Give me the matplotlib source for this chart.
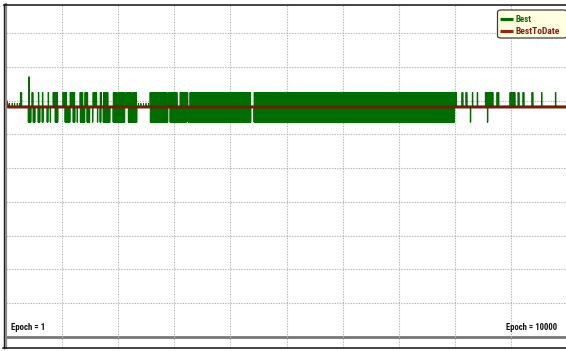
import numpy as np
import matplotlib
matplotlib.use('Agg')
import matplotlib.pyplot as plt
from matplotlib.lines import Line2D
from matplotlib.patches import FancyBboxPatch
from matplotlib import font_manager as fm

# ---------------- data ----------------
n_epochs = 10000
best_first = 7.82          # value of Best at epoch 1
best_base = 6.81           # level Best returns to (same as BestToDate)
best_up = 7.24             # typical upward excursion level
best_down = 6.36           # typical downward excursion level
best_tall = 7.70           # the single tall early spike
best_small = 6.92          # small fuzz just above the baseline

# epoch ranges in which Best makes upward excursions
up_runs = [(250, 285), (463, 481), (570, 588), (642, 660), (749, 766),
           (838, 927), (1016, 1087), (1141, 1230), (1319, 1373), (1408, 1462),
           (1551, 1622), (1676, 1711), (1729, 1818), (1907, 1979), (1996, 2121),
           (2139, 2246), (2264, 2335), (2567, 2870), (2888, 3048), (3102, 3244),
           (3280, 4367), (4420, 8039), (8128, 8146), (8200, 8217), (8307, 8324),
           (8396, 8414), (8538, 8681), (8752, 8788), (8984, 9073), (9127, 9144),
           (9216, 9234), (9376, 9394), (9537, 9554), (9786, 9804)]
tall_runs = [(392, 428)]
# epoch ranges in which Best makes downward excursions
down_runs = [(392, 446), (481, 517), (570, 606), (642, 660), (731, 749),
             (784, 802), (873, 927), (1052, 1141), (1194, 1230), (1266, 1283),
             (1319, 1408), (1444, 1497), (1533, 1551), (1622, 1640), (1676, 1693),
             (1729, 1854), (1907, 2121), (2175, 2335), (2567, 2888), (2923, 3226),
             (3244, 4367), (4420, 8003), (8271, 8289), (8574, 8592)]
small_runs = [(30, 250), (2353, 2549)]

btd_epochs = [1, 35, 10000]
btd_values = [6.99, 6.81, 6.81]

legend_labels = ['Best', 'BestToDate']
start_label = 'Epoch = 1'
end_label = 'Epoch = 10000'

# ---------------- build series ----------------
epochs = np.arange(1, n_epochs + 1)
best = np.full(n_epochs, best_base)
best[0] = best_first
for a, b in small_runs:
    m = (epochs >= a) & (epochs <= b) & (epochs % 45 == 20)
    best[m] = best_small
for a, b in up_runs:
    m = (epochs >= a) & (epochs <= b) & (epochs % 8 == 0)
    best[m] = best_up
for a, b in down_runs:
    m = (epochs >= a) & (epochs <= b) & (epochs % 8 == 4)
    best[m] = best_down
for a, b in tall_runs:
    m = (epochs >= a) & (epochs <= b) & (epochs % 16 == 0)
    best[m] = best_tall

# ---------------- font choice ----------------
names = {f.name for f in fm.fontManager.ttflist}
font = ['Liberation Sans', 'DejaVu Sans']
for cand in ['Liberation Sans Narrow', 'Roboto Condensed', 'Open Sans Condensed',
             'Arial Narrow']:
    if cand in names:
        font = [cand, 'DejaVu Sans']
        break

# ---------------- figure ----------------
W, H = 566, 351
fig = plt.figure(figsize=(W / 100, H / 100), dpi=100)
fig.patch.set_facecolor('white')
renderer = fig.canvas.get_renderer()

def fx(px):
    return px / W

def fy(py):
    return 1 - py / H

def fit(txt, target_px, size=7.0):
    w = txt.get_window_extent(renderer=renderer).width
    if w > target_px:
        txt.set_fontsize(size * target_px / w)

ax = fig.add_axes([fx(6), fy(348), 561 / W, 344 / H])
ax.set_xlim(0, n_epochs)
ax.set_ylim(-(348 - 337) / 33.78, (337 - 4) / 33.78)
ax.set_xticks(np.arange(1000, 10000, 1000))
ax.set_yticks(np.arange(1, 10, 1))
ax.tick_params(length=0, labelbottom=False, labelleft=False)
ax.grid(True, color='#b4b4b4', linestyle=(0, (1.2, 1.2)), linewidth=0.8)
for s in ax.spines.values():
    s.set_visible(False)
ax.axhline(0, color='#777777', linewidth=2.0, zorder=1)

green = '#006d00'
brown = '#721c0a'
ax.plot(epochs, best, color=green, linewidth=0.6, zorder=3)
ax.plot(btd_epochs, btd_values, color=brown, linewidth=2.2, zorder=4,
        solid_capstyle='butt')

# frame lines
fig.add_artist(Line2D([fx(4), fx(4)], [fy(4), fy(348)], color='#111111', lw=1.0))
fig.add_artist(Line2D([fx(5.8), fx(5.8)], [fy(4), fy(348)], color='#8a8a8a', lw=1.6))
fig.add_artist(Line2D([fx(4), fx(566)], [fy(4.5), fy(4.5)], color='#111111', lw=1.1))
fig.add_artist(Line2D([fx(3), fx(566)], [fy(348), fy(348)], color='#111111', lw=1.1))

t1 = fig.text(fx(11), fy(329.5), start_label, ha='left', va='baseline',
              fontsize=7, fontweight='bold', family=font, color='#111111')
t2 = fig.text(fx(557), fy(329.5), end_label, ha='right', va='baseline',
              fontsize=7, fontweight='bold', family=font, color='#111111')
fit(t1, 35)
fit(t2, 52)

# legend
box = FancyBboxPatch((fx(497.5), fy(38)), fx(567) - fx(497.5), fy(10) - fy(38),
                     boxstyle='round,pad=0,rounding_size=0.006',
                     transform=fig.transFigure, facecolor='#ffffe1',
                     edgecolor='#3c3c3c', linewidth=0.9, zorder=10)
fig.add_artist(box)
for py, col, lab, tcol, tw in [(19, green, legend_labels[0], '#0a6a0a', 16),
                               (31, '#8b2a1a', legend_labels[1], '#8b1a1a', 44)]:
    ln = Line2D([fx(499.5), fx(513)], [fy(py), fy(py)], color=col, lw=2.3,
                solid_capstyle='butt', zorder=11)
    fig.add_artist(ln)
    t = fig.text(fx(515.5), fy(py), lab, ha='left', va='center', fontsize=7,
                 fontweight='bold', family=font, color=tcol, zorder=12)
    fit(t, tw)

fig.savefig('out.png', dpi=100)
